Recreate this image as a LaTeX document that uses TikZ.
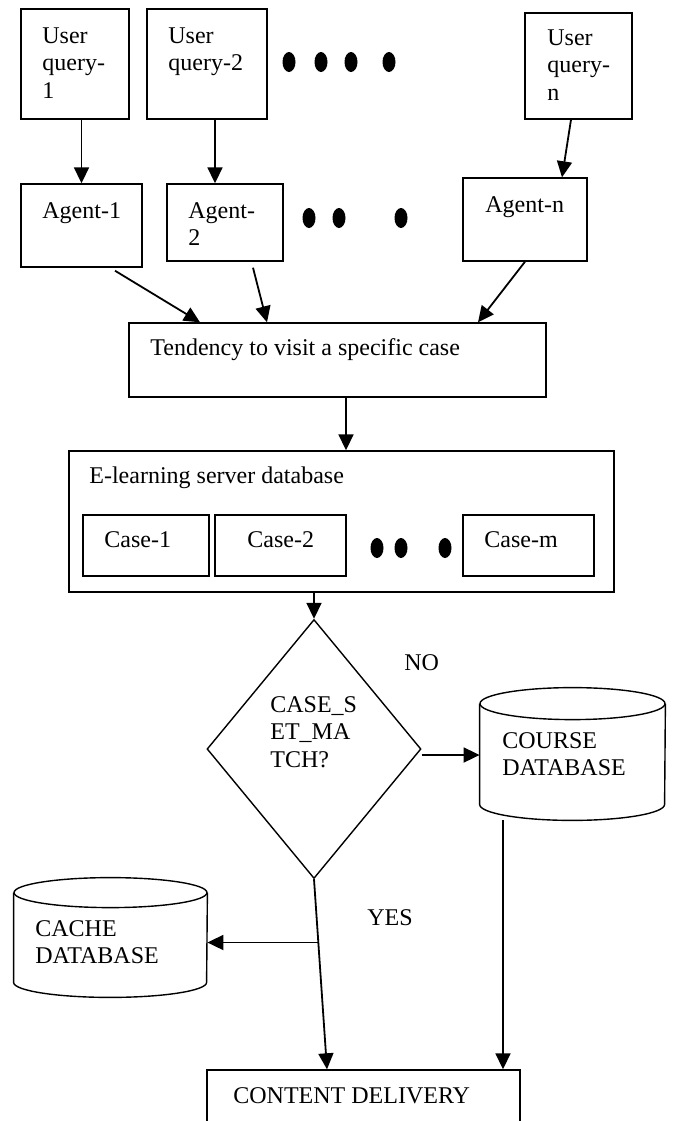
\documentclass[tikz,border=0pt]{standalone}
\usepackage{fontspec}
\setmainfont{Liberation Serif}
\usetikzlibrary{shapes.geometric,arrows.meta,calc}

\begin{document}
\begin{tikzpicture}[x=0.5pt,y=-0.5pt,
    font=\fontsize{12}{13.8}\selectfont,
    box/.style={draw, line width=0.7pt, inner sep=0pt},
    dbline/.style={line width=0.7pt},
    arr/.style={-{Triangle[length=8pt,width=7.5pt]}, line width=0.9pt},
    lbl/.style={inner sep=0pt, anchor=north west, align=left},
    lblb/.style={inner sep=0pt, anchor=base west}]
        \useasboundingbox (0,0) rectangle (673,1121);
        \clip (0,0) rectangle (673,1121);

        % User queries
        \node[box, minimum width=54pt, minimum height=55pt] (uq1) at (75,64) {};
        \node[box, minimum width=60pt, minimum height=55pt] (uq2) at (207,64) {};
        \node[box, minimum width=53.5pt, minimum height=53pt] (uqn) at (578.5,66) {};
        \node[lbl] (uq1txt) at (42,27) {User\\query-\\1};
        \node[lbl] (uq2txt) at (168,27) {User\\query-2};
        \node[lbl] (uqntxt) at (547,29) {User\\query-\\n};
        \foreach \x in {289,321,351,389} \fill (\x,62) ellipse[x radius=3.25pt, y radius=5pt];

        % Agents
        \node[box, minimum width=60.5pt, minimum height=41.5pt] (ag1) at (81.5,225.5) {};
        \node[box, minimum width=58pt, minimum height=38.5pt] (ag2) at (225,222.5) {};
        \node[box, minimum width=62pt, minimum height=41.5pt] (agn) at (525,219.5) {};
        \node[lblb] (ag1txt) at (42,218) {Agent-1};
        \node[lbl] (ag2txt) at (188,202) {Agent-\\2};
        \node[lblb] (agntxt) at (485,212) {Agent-n};
        \foreach \x in {309,339,401} \fill (\x,218) ellipse[x radius=3.25pt, y radius=5pt];

        % Tendency and server database
        \node[box, minimum width=208.5pt, minimum height=37pt] (tend) at (337.5,360) {};
        \node[lblb] (tendtxt) at (150,355) {Tendency to visit a specific case};
        \node[box, minimum width=272.5pt, minimum height=70.5pt] (elearn) at (341.5,521.5) {};
        \node[lblb] (elearntxt) at (89,483) {E-learning server database};
        \node[box, minimum width=63pt, minimum height=30.5pt] (case1) at (146,545.5) {};
        \node[box, minimum width=65.5pt, minimum height=30.5pt] (case2) at (280.5,545.5) {};
        \node[box, minimum width=65.5pt, minimum height=30.5pt] (casem) at (528.5,545.5) {};
        \node[lblb] (case1txt) at (104,547) {Case-1};
        \node[lblb] (case2txt) at (247,547) {Case-2};
        \node[lblb] (casemtxt) at (484,547) {Case-m};
        \foreach \x in {377,401,445} \fill (\x,548) ellipse[x radius=3.25pt, y radius=5pt];

        % Decision
        \node[box, diamond, minimum width=107pt, minimum height=129.5pt] (dec) at (314,749) {};
        \node[lbl] (dectxt) at (270,696) {CASE\_S\\ET\_MA\\TCH?};
        \node[lblb] (notxt) at (404,670) {NO};
        \node[lblb] (yestxt) at (367,925) {YES};

        % Databases
        \node[inner sep=0pt, minimum width=92.5pt, minimum height=66pt] (course) at (572.5,754) {};
        \draw[dbline] ([yshift=-8pt]course.north) ellipse[x radius=46.25pt, y radius=8pt];
        \draw[dbline] ([yshift=-8pt]course.north west) -- ([yshift=8pt]course.south west)
            arc[start angle=180, end angle=360, x radius=46.25pt, y radius=8pt] -- ([yshift=-8pt]course.north east);
        \node[lbl] (coursetxt) at (502,732) {COURSE\\DATABASE};
        \node[inner sep=0pt, minimum width=96.5pt, minimum height=59.5pt] (cache) at (110.5,937.5) {};
        \draw[dbline] ([yshift=-7.5pt]cache.north) ellipse[x radius=48.25pt, y radius=7.5pt];
        \draw[dbline] ([yshift=-7.5pt]cache.north west) -- ([yshift=7.5pt]cache.south west)
            arc[start angle=180, end angle=360, x radius=48.25pt, y radius=7.5pt] -- ([yshift=-7.5pt]cache.north east);
        \node[lbl] (cachetxt) at (35,920) {CACHE\\DATABASE};

        % Content delivery
        \node[box, minimum width=156.5pt, minimum height=40pt] (cd) at (363.5,1110) {};
        \node[lblb] (cdtxt) at (233,1103) {CONTENT DELIVERY};

        % Arrows
        \draw[arr] (ag1.north |- uq1.south) -- (ag1.north);
        \draw[arr] ([xshift=4pt]uq2.south) -- ([xshift=4pt]uq2.south |- ag2.north);
        \draw[arr] ([xshift=-3.75pt]uqn.south) -- ([xshift=18.5pt]agn.north);
        \draw[arr] ([xshift=16.75pt,yshift=-1.5pt]ag1.south) -- ([xshift=-68.75pt]tend.north);
        \draw[arr] ([xshift=14pt,yshift=-3pt]ag2.south) -- ([xshift=-35.25pt]tend.north);
        \draw[arr] (agn.south) -- ([xshift=70.25pt]tend.north);
        \draw[arr] ([xshift=4.25pt]tend.south) -- ([xshift=4.25pt]tend.south |- elearn.north);
        \draw[arr] (dec.north |- elearn.south) -- (dec.north);
        \draw[arr] ([yshift=-3pt]dec.east) -- ([yshift=-3pt]dec.east -| course.west);
        \coordinate (yesend) at ([xshift=-18.25pt]cd.north);
        \draw[arr] (dec.south) -- (yesend);
        \coordinate (split) at ($(dec.south)!0.333!(yesend)$);
        \draw[arr] (split) -- (split -| cache.east);
        \draw[arr] ([xshift=-34.75pt]course.south) -- ([xshift=-34.75pt]course.south |- cd.north);
\end{tikzpicture}
\end{document}
